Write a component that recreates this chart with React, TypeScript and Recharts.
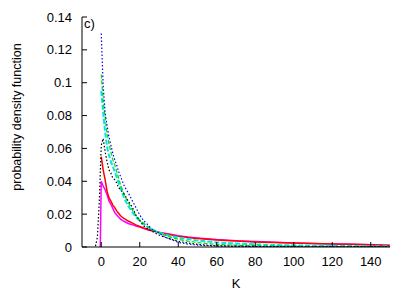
import { LineChart, Line, XAxis, YAxis, Customized } from "recharts";

// shared K grid for the series that start at K = 0
const K = [0, 1, 2, 3, 4, 5, 6, 7, 8, 9, 10, 12, 14, 16, 18, 20, 22, 24, 26, 28, 30, 33, 36, 40, 45, 50, 55, 60, 70, 80, 90, 100, 110, 120, 130, 140, 150];

const redP = [0.055, 0.047, 0.041, 0.034, 0.030, 0.028, 0.0255, 0.024, 0.022, 0.0205, 0.019, 0.0172, 0.0158, 0.0147, 0.0135, 0.0125, 0.0116, 0.0108, 0.0101, 0.0095, 0.0089, 0.0081, 0.0074, 0.0066, 0.0058, 0.0052, 0.0047, 0.0043, 0.0036, 0.0031, 0.0027, 0.0024, 0.0022, 0.0019, 0.0016, 0.0013, 0.0009];
const greenP = [0.105, 0.089, 0.079, 0.069, 0.063, 0.058, 0.053, 0.05, 0.046, 0.042, 0.038, 0.032, 0.027, 0.023, 0.019, 0.0165, 0.0145, 0.0125, 0.011, 0.0096, 0.0086, 0.0072, 0.006, 0.0047, 0.0036, 0.0027, 0.0021, 0.0016, 0.0011, 0.0008, 0.0006, 0.0005, 0.0004, 0.0003, 0.0003, 0.0002, 0.0002];
const cyanP = [0.095, 0.082, 0.07, 0.061, 0.056, 0.052, 0.049, 0.046, 0.0425, 0.039, 0.036, 0.0295, 0.025, 0.0215, 0.0182, 0.0158, 0.014, 0.0123, 0.011, 0.0098, 0.0088, 0.0076, 0.0066, 0.0058, 0.0048, 0.004, 0.0033, 0.0028, 0.0021, 0.0016, 0.0012, 0.001, 0.0008, 0.0007, 0.0006, 0.0005, 0.0004];
const blueP = [0.13, 0.098, 0.082, 0.074, 0.067, 0.062, 0.057, 0.053, 0.05, 0.046, 0.043, 0.037, 0.033, 0.0285, 0.024, 0.0195, 0.016, 0.0138, 0.0112, 0.0095, 0.0085, 0.006, 0.0048, 0.0028, 0.0018, 0.0012, 0.0008, 0.0006, 0.0004, 0.0003, 0.0002, 0.0002, 0.0001, 0.0001, 0.0001, 0.0001, 0.0001];

const magentaK = [-0.5, 0, 1, 2, 3, 4, 5, 6, 7, 8, 9, 10, 12, 14, 16, 18, 20, 24, 28, 32, 36, 40, 45, 50, 60, 70, 80, 90, 100, 110, 120, 130, 140, 150];
const magentaP = [0, 0.04, 0.037, 0.035, 0.032, 0.028, 0.026, 0.0235, 0.021, 0.0195, 0.0182, 0.017, 0.0155, 0.0143, 0.0136, 0.0128, 0.0121, 0.0105, 0.0094, 0.0085, 0.0077, 0.0069, 0.0061, 0.0055, 0.0045, 0.0038, 0.0033, 0.0029, 0.0025, 0.0022, 0.0019, 0.0016, 0.0013, 0.001];

const blackK = [-3, -2, -1, 0, 1, 2, 3, 4, 5, 6, 7, 8, 9, 10, 12, 14, 16, 18, 20, 22, 24, 26, 28, 30, 33, 36, 40, 45, 50, 55, 60, 70, 80, 90, 100, 110, 120, 130, 140, 150];
const blackP = [0.0005, 0.006, 0.028, 0.062, 0.066, 0.058, 0.052, 0.047, 0.045, 0.042, 0.041, 0.039, 0.036, 0.035, 0.032, 0.028, 0.0245, 0.0195, 0.016, 0.0128, 0.0112, 0.0098, 0.0085, 0.0073, 0.006, 0.0048, 0.0035, 0.0024, 0.0016, 0.0011, 0.0008, 0.0005, 0.0003, 0.0002, 0.0002, 0.0001, 0.0001, 0.0001, 0.0001, 0.0001];

const xTicks = [0, 20, 40, 60, 80, 100, 120, 140];
const yTicks = [0, 0.02, 0.04, 0.06, 0.08, 0.1, 0.12, 0.14];

const rows = (ks: number[], ps: number[]) => ks.map((k, i) => ({ k, p: ps[i] }));

const FONT = "'Liberation Sans', Arial, sans-serif";
const tickStyle = { fill: "#000", fontSize: 13, fontFamily: FONT };

export default function App() {
  return (
    <div style={{ width: 415, height: 291 }}>
      <style>{"body{margin:0}"}</style>
      <LineChart width={415} height={291} margin={{ top: 17, right: 25, bottom: 0, left: 0 }}>
        <XAxis
          xAxisId="b"
          dataKey="k"
          type="number"
          domain={[-10, 150]}
          ticks={xTicks}
          allowDataOverflow
          height={44}
          stroke="#000"
          tickSize={-5}
          tickMargin={15}
          tick={tickStyle}
        />
        <XAxis xAxisId="t" dataKey="k" type="number" domain={[-10, 150]} ticks={xTicks} orientation="top" height={0} stroke="#000" tickSize={-5} tick={false} />
        <YAxis
          yAxisId="l"
          type="number"
          domain={[0, 0.14]}
          ticks={yTicks}
          allowDataOverflow
          width={82}
          stroke="#000"
          tickSize={-5}
          tickMargin={15}
          tick={tickStyle}
          tickFormatter={(v: number) => String(+v.toFixed(2))}
        />
        <YAxis yAxisId="r" type="number" domain={[0, 0.14]} ticks={yTicks} orientation="right" width={0} stroke="#000" tickSize={-5} tick={false} />

        <Line xAxisId="b" yAxisId="l" data={rows(magentaK, magentaP)} dataKey="p" stroke="#ff00ff" strokeWidth={1.5} dot={false} isAnimationActive={false} />
        <Line xAxisId="b" yAxisId="l" data={rows(K, redP)} dataKey="p" stroke="#ff0000" strokeWidth={1.5} dot={false} isAnimationActive={false} />
        <Line xAxisId="b" yAxisId="l" data={rows(K, cyanP)} dataKey="p" stroke="#00e5e5" strokeWidth={2} strokeDasharray="5 2" dot={false} isAnimationActive={false} />
        <Line xAxisId="b" yAxisId="l" data={rows(K, greenP)} dataKey="p" stroke="#00dd00" strokeWidth={1.2} strokeDasharray="4 2" dot={false} isAnimationActive={false} />
        <Line xAxisId="b" yAxisId="l" data={rows(K, blueP)} dataKey="p" stroke="#0000ff" strokeWidth={1.2} strokeDasharray="1.5 2" dot={false} isAnimationActive={false} />
        <Line xAxisId="b" yAxisId="l" data={rows(blackK, blackP)} dataKey="p" stroke="#000" strokeWidth={1.2} strokeDasharray="1.5 2" dot={false} isAnimationActive={false} />

        <Customized
          component={() => (
            <g fontFamily={FONT} fill="#000">
              <text x={84} y={28} fontSize={13}>c)</text>
              <text x={236} y={288} fontSize={13} textAnchor="middle">K</text>
              <text transform="translate(17,117) rotate(-90)" fontSize={12.5} textAnchor="middle" dominantBaseline="central">
                probability density function
              </text>
            </g>
          )}
        />
      </LineChart>
    </div>
  );
}
